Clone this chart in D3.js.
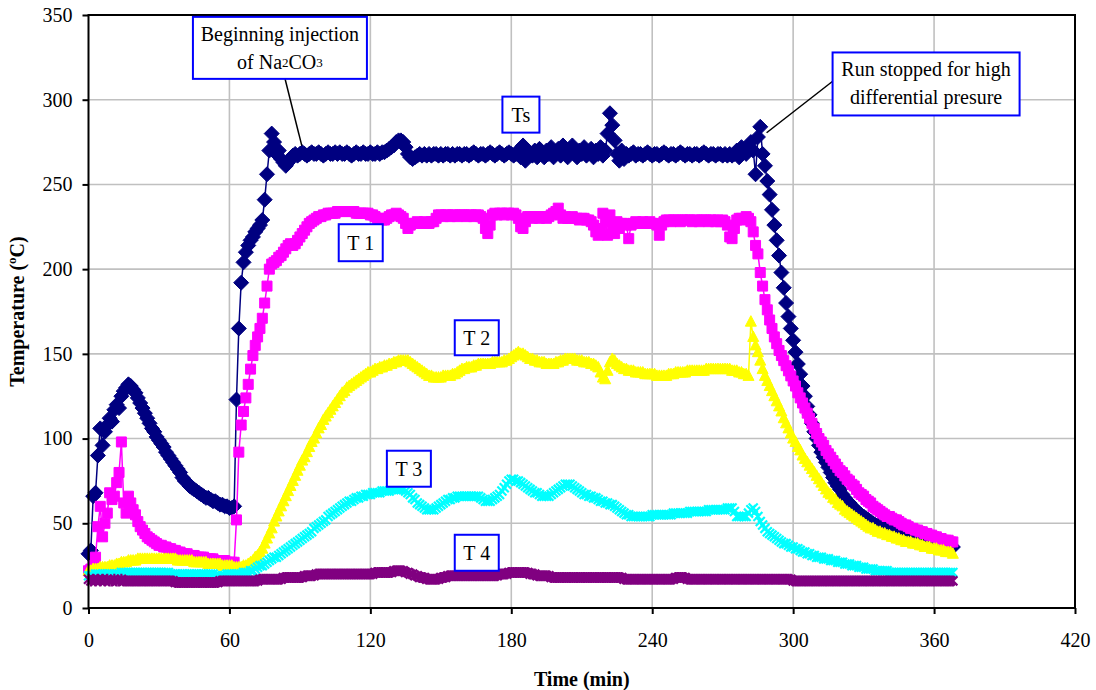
<!DOCTYPE html>
<html>
<head>
<meta charset="utf-8">
<script src="https://cdn.jsdelivr.net/npm/d3@7"></script>
<style>
  body { margin: 0; background: #ffffff; }
  svg { display: block; font-family: "Liberation Serif", "Times New Roman", serif; }
</style>
</head>
<body>
<svg id="chart" width="1096" height="690"></svg>
<script>
// Readings taken once per minute from the start of the run
const minutes = d3.range(0, 369);

// Ts – steam temperature (°C)
const tsTemp = [
  32,34,66,68,90,106,96,104,108,112,
  110,117,120,118,125,128,130,132,131,129,
  127,124,121,118,115,112,109,106,104,101,
  99,97,95,92,90,88,86,84,82,80,
  77,75,74,72,71,70,69,68,67,66,
  65,65,64,63,63,62,61,61,60,60,
  59,59,60,123,165,192,204,210,214,217,
  219,222,224,226,229,241,256,270,280,275,
  268,270,265,263,261,263,265,267,268,267,
  268,269,268,267,268,269,268,268,269,268,
  267,268,269,268,268,269,268,269,268,268,
  269,268,267,268,269,268,268,269,268,268,
  269,268,268,269,268,269,269,270,271,272,
  273,275,276,276,275,272,268,266,265,266,
  267,268,267,268,267,268,267,268,268,267,
  268,267,268,268,267,268,267,268,268,267,
  268,268,267,268,269,268,267,268,268,267,
  268,269,268,267,268,269,268,267,268,269,
  268,267,268,270,266,273,264,270,268,267,
  270,266,271,268,266,270,268,272,266,269,
  271,267,273,268,266,271,273,268,266,270,
  268,272,267,269,271,266,270,268,272,267,
  270,280,292,285,276,268,264,270,265,268,
  267,268,269,267,268,268,267,268,269,268,
  267,268,268,267,268,269,268,267,268,268,
  267,268,269,268,267,268,268,267,268,268,
  267,268,269,268,267,268,268,267,268,268,
  267,268,267,268,267,268,270,266,272,270,
  268,272,275,270,256,278,284,268,261,252,
  244,235,226,217,208,198,189,180,172,165,
  158,151,144,138,131,125,119,114,109,104,
  100,96,92,89,86,83,80,77,74,72,
  70,67,65,63,62,60,59,57,56,55,
  54,53,52,51,50,49,49,48,47,47,
  46,46,45,45,44,44,44,43,43,43,
  42,42,42,41,41,41,40,40,40,39,
  39,39,38,38,38,37,37,37,36
];

// T 1 (°C)
const t1Temp = [
  22,23,25,30,48,60,42,50,56,68,
  64,66,74,80,98,62,56,66,62,58,
  55,51,48,46,44,42,41,40,39,38,
  37,37,36,36,35,35,34,34,33,33,
  32,32,32,31,31,31,30,30,30,30,
  29,29,29,29,28,28,28,28,28,27,
  27,27,27,52,92,108,116,124,132,141,
  149,155,160,165,171,180,190,200,203,204,
  205,207,208,210,212,214,215,214,215,217,
  219,221,223,225,227,228,229,230,231,231,
  232,232,233,233,233,233,234,234,234,234,
  234,234,234,234,233,233,233,233,233,233,
  232,232,231,230,230,229,229,230,231,232,
  232,233,232,231,230,227,224,226,227,227,
  228,227,227,228,227,227,228,228,230,232,
  232,231,232,232,231,232,232,231,232,232,
  232,231,232,232,231,232,232,231,230,224,
  221,226,232,233,232,233,233,232,233,233,
  232,233,232,230,225,224,228,231,231,230,
  231,231,230,231,231,230,231,232,233,234,
  236,232,230,231,230,230,231,230,230,229,
  230,230,229,229,228,226,222,220,224,233,
  228,220,232,226,221,228,224,227,227,226,
  218,226,227,228,227,227,228,227,227,228,
  227,227,226,220,226,228,229,229,228,229,
  229,229,228,229,229,229,229,228,229,229,
  228,229,229,229,228,229,229,228,229,228,
  229,228,226,219,218,224,229,230,230,229,
  231,230,228,222,214,209,198,190,182,176,
  170,165,160,156,152,149,146,143,140,137,
  134,131,127,124,121,118,115,112,109,106,
  103,100,98,96,93,91,89,87,85,83,
  81,80,78,76,75,73,72,70,68,67,
  66,64,63,62,60,59,58,57,56,55,
  54,54,53,52,52,51,50,49,49,48,
  47,47,46,46,45,45,44,44,43,43,
  42,42,41,41,40,40,40,39,39
];

// T 2 (°C)
const t2Temp = [
  22,22,23,23,23,24,24,24,24,25,
  25,25,26,26,27,27,27,28,28,28,
  28,29,29,29,29,29,29,29,29,29,
  29,29,29,29,29,29,29,29,28,28,
  28,28,28,28,28,27,27,27,27,27,
  27,26,26,26,26,26,26,25,25,25,
  25,25,24,24,24,24,25,25,26,27,
  28,30,31,33,35,38,41,44,47,51,
  54,57,60,63,66,69,72,75,78,81,
  84,87,89,92,95,98,100,103,106,108,
  111,113,115,117,119,121,123,125,127,128,
  130,131,132,133,134,135,136,137,138,139,
  139,140,141,141,142,142,143,143,144,144,
  145,145,146,146,146,146,146,145,144,143,
  142,141,140,139,138,137,137,136,136,136,
  136,137,137,137,137,138,138,139,140,141,
  141,142,142,142,143,143,144,144,144,144,
  144,144,145,145,145,145,145,146,146,147,
  148,149,150,151,150,150,149,148,147,147,
  146,146,145,145,145,144,144,144,144,145,
  145,146,146,147,147,147,147,147,146,146,
  146,145,145,145,144,144,143,142,139,136,
  135,140,145,147,146,144,143,142,141,141,
  140,140,140,139,139,139,139,138,138,138,
  138,138,137,137,137,137,137,138,138,138,
  139,139,139,139,139,140,140,140,140,140,
  140,140,140,141,141,141,141,141,141,141,
  141,141,141,141,140,140,140,139,139,138,
  138,137,169,160,155,151,146,141,137,134,
  131,128,125,122,119,116,112,109,106,103,
  100,98,95,93,90,88,86,84,82,80,
  78,76,74,72,70,68,67,65,64,62,
  61,60,58,57,56,55,54,53,52,51,
  50,49,48,47,47,46,45,45,44,44,
  43,43,42,42,41,41,40,40,39,39,
  39,38,38,38,37,37,36,36,36,35,
  35,35,34,34,34,33,33,33,32
];

// T 3 (°C)
const t3Temp = [
  19,19,19,20,20,20,20,20,20,20,
  20,20,20,20,21,21,21,21,21,21,
  21,21,21,21,21,21,21,21,21,21,
  21,21,21,21,21,20,20,20,20,20,
  20,20,20,20,20,20,20,20,20,20,
  20,20,20,20,19,19,19,19,19,20,
  20,20,20,20,20,20,21,21,21,22,
  22,23,24,25,25,26,27,28,29,30,
  30,31,32,33,34,35,36,37,38,39,
  40,41,42,43,44,45,47,48,49,50,
  51,52,54,55,56,57,58,59,60,61,
  62,63,63,64,65,65,66,66,67,67,
  67,68,68,68,68,69,69,69,69,70,
  70,70,70,70,70,69,68,67,65,64,
  62,61,60,59,58,58,58,58,59,60,
  61,62,63,64,64,65,65,66,66,66,
  66,66,66,66,66,66,66,65,64,63,
  63,63,64,65,66,67,69,71,73,75,
  76,76,75,75,74,73,72,71,70,69,
  68,68,67,66,66,66,66,67,68,69,
  70,71,72,73,73,73,72,71,70,69,
  68,67,67,66,66,65,65,64,63,63,
  62,62,61,61,60,59,58,57,56,55,
  55,54,54,54,54,54,54,54,54,54,
  55,55,55,55,55,55,55,55,55,56,
  56,56,56,56,56,56,57,57,57,57,
  57,57,57,57,58,58,58,58,58,58,
  58,58,59,59,59,57,54,54,54,54,
  54,56,58,59,57,54,51,49,47,45,
  44,43,42,41,40,39,38,38,37,36,
  36,35,35,34,33,33,32,32,31,31,
  30,30,30,29,29,29,28,28,28,27,
  27,27,26,26,26,25,25,25,24,24,
  24,23,23,23,23,22,22,22,22,22,
  22,21,21,21,21,21,21,21,21,21,
  21,21,21,21,21,21,21,21,21,21,
  21,21,21,21,21,21,21,21,21
];

// T 4 (°C)
const t4Temp = [
  17,16,17,16,17,16,17,16,17,16,
  16,17,16,16,17,16,16,16,16,16,
  16,16,16,16,16,16,16,16,16,16,
  16,16,16,16,16,16,16,15,15,15,
  15,15,15,15,15,15,15,15,15,15,
  15,15,15,15,15,15,16,16,16,16,
  16,16,16,16,16,16,16,16,16,16,
  16,16,16,17,17,17,17,17,17,17,
  17,17,17,18,18,18,18,18,18,18,
  18,18,19,19,19,19,19,20,20,20,
  20,20,20,20,20,20,20,20,20,20,
  20,20,20,20,20,20,20,20,20,20,
  20,20,21,21,21,21,21,21,21,21,
  22,22,22,22,22,21,21,20,20,19,
  19,18,18,18,17,17,17,17,17,17,
  18,18,18,19,19,19,19,19,19,19,
  19,19,19,19,19,19,19,19,19,19,
  19,19,19,19,19,20,20,20,20,21,
  21,21,21,21,21,21,21,21,20,20,
  20,19,19,19,19,19,19,18,18,18,
  18,18,18,18,18,18,18,18,18,18,
  18,18,18,18,18,18,18,18,18,18,
  18,18,18,18,18,18,18,18,17,17,
  17,17,17,17,17,17,17,17,17,17,
  17,17,17,17,17,17,17,17,17,17,
  18,18,18,18,18,17,17,17,17,17,
  17,17,17,17,17,17,17,17,17,17,
  17,17,17,17,17,17,17,17,17,17,
  17,17,17,17,17,17,17,17,17,17,
  17,17,17,17,17,17,17,17,17,17,
  16,16,16,16,16,16,16,16,16,16,
  16,16,16,16,16,16,16,16,16,16,
  16,16,16,16,16,16,16,16,16,16,
  16,16,16,16,16,16,16,16,16,16,
  16,16,16,16,16,16,16,16,16,16,
  16,16,16,16,16,16,16,16,16,16,
  16,16,16,16,16,16,16,16,16
];

// Axis ticks
const timeTicks = [0, 60, 120, 180, 240, 300, 360, 420];
const tempTicks = [0, 50, 100, 150, 200, 250, 300, 350];

const seriesNames = ["Ts", "T 1", "T 2", "T 3", "T 4"];

const plot = { left: 88.5, right: 1075, top: 15, bottom: 608 };
const FONT = "'Liberation Serif', 'Times New Roman', serif";

const svg = d3.select("#chart");

const x = d3.scaleLinear().domain([0, 420]).range([plot.left, plot.right]);
const y = d3.scaleLinear().domain([0, 350]).range([plot.bottom, plot.top]);

// Grid
const grid = svg.append("g").attr("class", "grid");
grid.selectAll("line.h")
  .data(tempTicks.filter(d => d > 0 && d < 350))
  .join("line").attr("class", "h")
  .attr("x1", plot.left).attr("x2", plot.right)
  .attr("y1", d => y(d)).attr("y2", d => y(d))
  .attr("stroke", "#c0c0c0").attr("stroke-width", 1.6);
grid.selectAll("line.v")
  .data(timeTicks.filter(d => d > 0 && d < 420))
  .join("line").attr("class", "v")
  .attr("x1", d => x(d)).attr("x2", d => x(d))
  .attr("y1", plot.top).attr("y2", plot.bottom)
  .attr("stroke", "#c0c0c0").attr("stroke-width", 1.6);

// Series, drawn in order so later probes sit on top
const markerPaths = {
  diamond: "M0,-7.5L7.5,0L0,7.5L-7.5,0Z",
  square: "M-5,-5H5V5H-5Z",
  triangle: "M0,-6L5.5,4.5H-5.5Z",
  cross: "M-4.5,-4.5L4.5,4.5M-4.5,4.5L4.5,-4.5",
  star: "M-4.5,-4.5L4.5,4.5M-4.5,4.5L4.5,-4.5M0,-5.5V5.5"
};

const series = [
  { name: seriesNames[0], values: tsTemp, color: "#000080", marker: "diamond", filled: true },
  { name: seriesNames[1], values: t1Temp, color: "#ff00ff", marker: "square", filled: true },
  { name: seriesNames[2], values: t2Temp, color: "#ffff00", marker: "triangle", filled: true },
  { name: seriesNames[3], values: t3Temp, color: "#00ffff", marker: "cross", filled: false },
  { name: seriesNames[4], values: t4Temp, color: "#800080", marker: "star", filled: false }
];

const line = d3.line().x(d => x(d[0])).y(d => y(d[1]));

series.forEach(s => {
  const pts = minutes.map((t, i) => [t, s.values[i]]);
  const g = svg.append("g").attr("class", "series");
  g.append("path")
    .attr("d", line(pts))
    .attr("fill", "none")
    .attr("stroke", s.color)
    .attr("stroke-width", 1.5);
  g.selectAll("path.mk")
    .data(pts)
    .join("path").attr("class", "mk")
    .attr("transform", d => `translate(${x(d[0])},${y(d[1])})`)
    .attr("d", markerPaths[s.marker])
    .attr("fill", s.filled ? s.color : "none")
    .attr("stroke", s.color)
    .attr("stroke-width", s.filled ? 1 : 2.2);
});

// Plot frame
svg.append("rect")
  .attr("x", plot.left).attr("y", plot.top)
  .attr("width", plot.right - plot.left).attr("height", plot.bottom - plot.top)
  .attr("fill", "none").attr("stroke", "#000").attr("stroke-width", 2);

// Axes
const yAxis = svg.append("g")
  .attr("transform", `translate(${plot.left},0)`)
  .call(d3.axisLeft(y).tickValues(tempTicks).tickSize(6).tickPadding(10).tickSizeOuter(0));
const xAxis = svg.append("g")
  .attr("transform", `translate(0,${plot.bottom})`)
  .call(d3.axisBottom(x).tickValues(timeTicks).tickSize(6).tickPadding(19).tickSizeOuter(0));
[yAxis, xAxis].forEach(a => {
  a.select(".domain").remove();
  a.selectAll(".tick line").attr("stroke", "#000").attr("stroke-width", 2);
  a.selectAll(".tick text")
    .attr("fill", "#000")
    .style("font-family", FONT)
    .style("font-size", "20px");
});

// Axis titles
const yTitle = svg.append("text")
  .attr("transform", `translate(24,${(plot.top + plot.bottom) / 2}) rotate(-90)`)
  .attr("text-anchor", "middle")
  .style("font-family", FONT).style("font-size", "20px").style("font-weight", "bold");
yTitle.append("tspan").text("Temperature (");
yTitle.append("tspan").text("o").style("font-size", "13px").attr("dy", -8);
yTitle.append("tspan").text("C)").attr("dy", 8);

svg.append("text")
  .attr("x", (plot.left + plot.right) / 2).attr("y", 686)
  .attr("text-anchor", "middle")
  .style("font-family", FONT).style("font-size", "20px").style("font-weight", "bold")
  .text("Time (min)");

// Annotation boxes (positioned in data units: minutes, °C)
function labelBox(cx, cy, w, h) {
  const px = x(cx), py = y(cy);
  svg.append("rect")
    .attr("x", px - w / 2).attr("y", py - h / 2)
    .attr("width", w).attr("height", h)
    .attr("fill", "#fff").attr("stroke", "#0000ff").attr("stroke-width", 2);
  return { px, py };
}
function leader(t0, v0, t1, v1) {
  svg.append("line")
    .attr("x1", x(t0)).attr("y1", y(v0))
    .attr("x2", x(t1)).attr("y2", y(v1))
    .attr("stroke", "#000").attr("stroke-width", 1.5);
}

// Start of Na2CO3 injection
leader(83.7, 312.2, 90.8, 272.9);
{
  const b = labelBox(81.5, 330.6, 174, 62);
  svg.append("text").attr("x", b.px).attr("y", b.py - 7)
    .attr("text-anchor", "middle")
    .style("font-family", FONT).style("font-size", "20px")
    .text("Beginning injection");
  const t = svg.append("text").attr("x", b.px).attr("y", b.py + 21)
    .attr("text-anchor", "middle")
    .style("font-family", FONT).style("font-size", "20px");
  t.append("tspan").text("of Na");
  t.append("tspan").text("2").style("font-size", "13px").attr("dy", -2);
  t.append("tspan").text("CO").attr("dy", 2);
  t.append("tspan").text("3").style("font-size", "13px").attr("dy", -2);
}

// End of run
leader(317.1, 311.2, 288.7, 280.5);
{
  const b = labelBox(356.6, 309.3, 187, 63);
  svg.append("text").attr("x", b.px).attr("y", b.py - 8)
    .attr("text-anchor", "middle")
    .style("font-family", FONT).style("font-size", "20px")
    .text("Run stopped for high");
  svg.append("text").attr("x", b.px).attr("y", b.py + 20)
    .attr("text-anchor", "middle")
    .style("font-family", FONT).style("font-size", "20px")
    .text("differential presure");
}

// Series labels
const seriesLabels = [
  { text: seriesNames[0], t: 184.1, v: 291.2, w: 37, h: 36 },
  { text: seriesNames[1], t: 115.9, v: 215.6, w: 44, h: 37 },
  { text: seriesNames[2], t: 165.3, v: 159.5, w: 44, h: 35 },
  { text: seriesNames[3], t: 136.4, v: 82.2, w: 44, h: 36 },
  { text: seriesNames[4], t: 165.3, v: 32.6, w: 44, h: 36 }
];
seriesLabels.forEach(l => {
  const b = labelBox(l.t, l.v, l.w, l.h);
  svg.append("text").attr("x", b.px).attr("y", b.py + 7)
    .attr("text-anchor", "middle")
    .style("font-family", FONT).style("font-size", "20px")
    .text(l.text);
});
</script>
</body>
</html>
